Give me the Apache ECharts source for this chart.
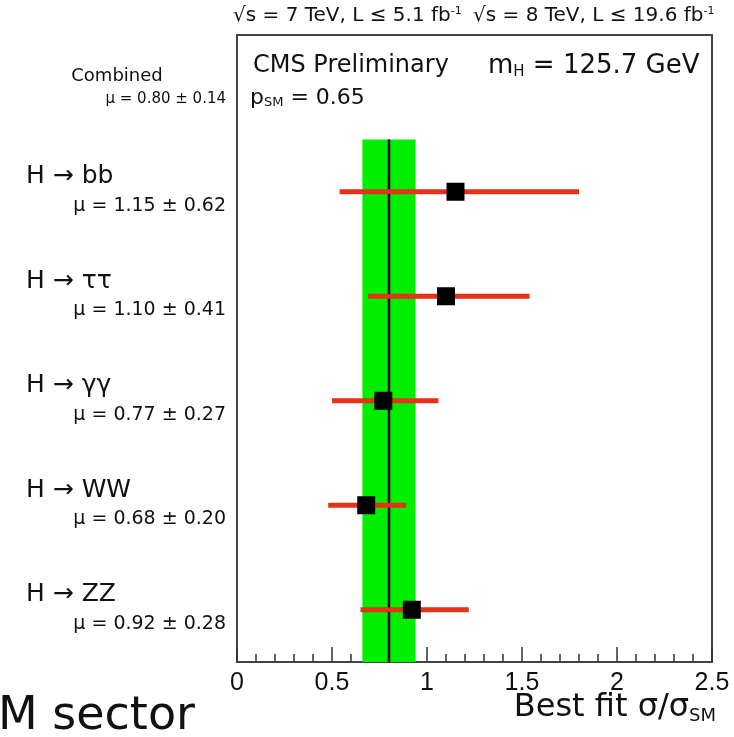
<!DOCTYPE html>
<html>
<head>
<meta charset="utf-8">
<script src="https://cdn.jsdelivr.net/npm/echarts@6/dist/echarts.min.js"></script>
<style>html,body{margin:0;padding:0;background:#fff;}#c{width:734px;height:737px;}</style>
</head>
<body>
<div id="c"></div>
<script>
// ---- data ----
const channels = ['Combined', 'H \u2192 bb', 'H \u2192 \u03c4\u03c4', 'H \u2192 \u03b3\u03b3', 'H \u2192 WW', 'H \u2192 ZZ'];
const muValues = [0.80, 1.15, 1.10, 0.77, 0.68, 0.92];
const muErrors = [0.14, 0.62, 0.41, 0.27, 0.20, 0.28];
// error bar extents (down / up)
const errDown = [0.14, 0.61, 0.41, 0.27, 0.20, 0.27];
const errUp = [0.14, 0.65, 0.44, 0.29, 0.21, 0.30];
const rowPos = [6, 5, 4, 3, 2, 1];
const xTickLabels = ['0', '0.5', '1', '1.5', '2', '2.5'];

const FONT = "'Liberation Sans', Arial, sans-serif";
const WFONT = "'DejaVu Sans', 'Liberation Sans', sans-serif";
const RED = '#e63219';

const chart = echarts.init(document.getElementById('c'), null, {renderer: 'canvas'});

const barData = [];
const markData = [];
for (let i = 1; i < channels.length; i++) {
  barData.push([muValues[i] - errDown[i], muValues[i] + errUp[i], rowPos[i]]);
  markData.push([muValues[i], rowPos[i]]);
}
const bandData = [[muValues[0] - errDown[0], muValues[0] + errUp[0], muValues[0]]];
const labelData = channels.map((c, i) => [i]);

const option = {
  animation: false,
  backgroundColor: '#fff',
  grid: {left: 237, right: 22, top: 35, bottom: 75, show: true, borderColor: '#444', borderWidth: 2, backgroundColor: 'transparent'},
  xAxis: {
    type: 'value', min: 0, max: 2.5, interval: 0.5,
    axisLine: {show: true, lineStyle: {color: '#444', width: 2}},
    axisTick: {show: true, inside: true, length: 15, lineStyle: {color: '#333', width: 1.5}},
    minorTick: {show: true, splitNumber: 5, length: 8, lineStyle: {color: '#333', width: 1.5}},
    splitLine: {show: false},
    axisLabel: {fontSize: 25, color: '#111', fontFamily: FONT, margin: 9,
      formatter: (v) => xTickLabels[Math.round(v / 0.5)]}
  },
  yAxis: {
    type: 'value', min: 0.5, max: 6.5,
    axisLine: {show: false}, axisTick: {show: false}, axisLabel: {show: false}, splitLine: {show: false}
  },
  series: [
    {
      type: 'custom', name: 'band', z: 1,
      data: bandData,
      renderItem: function (params, api) {
        const p1 = api.coord([api.value(0), 5.5]);
        const p2 = api.coord([api.value(1), 0.5]);
        const c1 = api.coord([api.value(2), 5.5]);
        const c2 = api.coord([api.value(2), 0.5]);
        return {type: 'group', children: [
          {type: 'rect', shape: {x: p1[0], y: p1[1], width: p2[0] - p1[0], height: p2[1] - p1[1]}, style: {fill: '#00ee00'}},
          {type: 'line', shape: {x1: c1[0], y1: c1[1], x2: c2[0], y2: c2[1]}, style: {stroke: '#000', lineWidth: 2.5}}
        ]};
      }
    },
    {
      type: 'custom', name: 'errors', z: 2,
      data: barData,
      renderItem: function (params, api) {
        const a = api.coord([api.value(0), api.value(2)]);
        const b = api.coord([api.value(1), api.value(2)]);
        return {type: 'line', shape: {x1: a[0], y1: a[1], x2: b[0], y2: b[1]}, style: {stroke: RED, lineWidth: 5}};
      }
    },
    {
      type: 'scatter', name: 'mu', z: 3,
      data: markData, symbol: 'rect', symbolSize: 18,
      itemStyle: {color: '#000', opacity: 1}
    },
    {
      type: 'custom', name: 'labels', z: 4, clip: false,
      data: labelData,
      renderItem: function (params, api) {
        const i = api.value(0);
        const p = api.coord([0, rowPos[i]]);
        const mu = '\u03bc = ' + muValues[i].toFixed(2) + ' \u00b1 ' + muErrors[i].toFixed(2);
        if (i === 0) {
          return {type: 'group', children: [
            {type: 'text', style: {text: channels[i], x: p[0] - 120, y: p[1] - 11, align: 'center', verticalAlign: 'middle', fontSize: 18, fontFamily: WFONT, fill: '#111'}},
            {type: 'text', style: {text: mu, x: p[0] - 11, y: p[1] + 12, align: 'right', verticalAlign: 'middle', fontSize: 15, fontFamily: WFONT, fill: '#111'}}
          ]};
        }
        return {type: 'group', children: [
          {type: 'text', style: {text: channels[i], x: p[0] - 211, y: p[1] - 15, align: 'left', verticalAlign: 'middle', fontSize: 25, fontFamily: WFONT, fill: '#111'}},
          {type: 'text', style: {text: mu, x: p[0] - 11, y: p[1] + 14, align: 'right', verticalAlign: 'middle', fontSize: 19, fontFamily: WFONT, fill: '#111'}}
        ]};
      }
    }
  ],
  graphic: [
    {type: 'text', left: 233, top: 6, style: {
      text: '\u221as = 7 TeV, L \u2264 5.1 fb{sup|-1}',
      fontSize: 20, fontFamily: WFONT, fill: '#111',
      rich: {sup: {fontSize: 11, fontFamily: WFONT, verticalAlign: 'top', fill: '#111'}}
    }},
    {type: 'text', left: 473, top: 6, style: {
      text: '\u221as = 8 TeV, L \u2264 19.6 fb{sup|-1}',
      fontSize: 20, fontFamily: WFONT, fill: '#111',
      rich: {sup: {fontSize: 11, fontFamily: WFONT, verticalAlign: 'top', fill: '#111'}}
    }},
    {type: 'text', left: 253, top: 54, style: {
      text: 'CMS Preliminary',
      fontSize: 24, fontFamily: WFONT, fill: '#111'
    }},
    {type: 'text', left: 488, top: 53, style: {
      text: 'm{sub|H} = 125.7 GeV',
      fontSize: 26, fontFamily: WFONT, fill: '#111',
      rich: {sub: {fontSize: 15, fontFamily: WFONT, verticalAlign: 'bottom', padding: [12, 0, 0, 0], fill: '#111'}}
    }},
    {type: 'text', left: 250, top: 87, style: {
      text: 'p{sub|SM} = 0.65',
      fontSize: 22, fontFamily: WFONT, fill: '#111',
      rich: {sub: {fontSize: 13, fontFamily: WFONT, verticalAlign: 'bottom', padding: [10, 0, 0, 0], fill: '#111'}}
    }},
    {type: 'text', right: 18, top: 692, style: {
      text: 'Best fit \u03c3/\u03c3{sub|SM}',
      fontSize: 32, fontFamily: WFONT, fill: '#111',
      rich: {sub: {fontSize: 18, fontFamily: WFONT, verticalAlign: 'bottom', padding: [16, 0, 0, 0], fill: '#111'}}
    }},
    {type: 'text', left: -2, top: 694, style: {
      text: 'M sector', fontSize: 46, fontFamily: WFONT, fill: '#111'
    }}
  ]
};
chart.setOption(option);
</script>
</body>
</html>
